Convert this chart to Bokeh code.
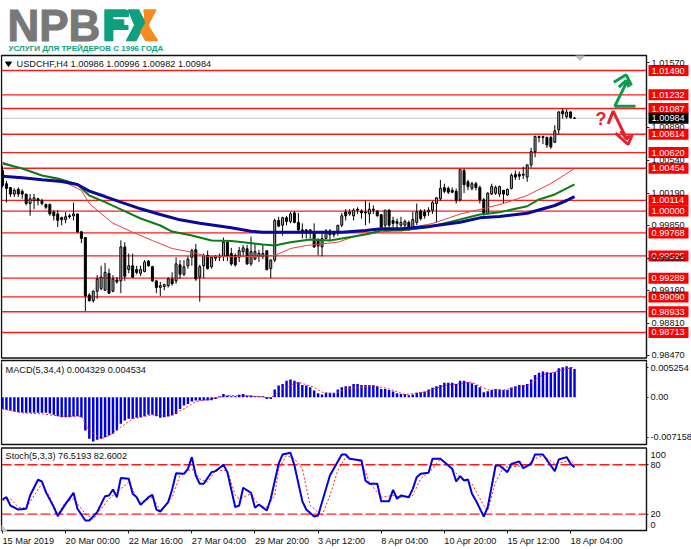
from bokeh.plotting import figure
from bokeh.layouts import column
from bokeh.models import Range1d, LinearAxis, FixedTicker, ColumnDataSource
from bokeh.core.properties import value
from bokeh.embed import file_html
from bokeh.resources import INLINE

# ---------- data ----------
highs = [1.0048,1.0032,1.0025,1.0024,1.0025,1.0023,1.0018,1.0018,1.0018,1.0014,
1.0013,1.0008,1.0008,1.0001,1.0001,.9994,.9999,.9997,1.0009,.9997,
.9979,.9972,.9913,.9916,.9932,.9942,.9945,.9939,.9932,.9930,
.9969,.9967,.9955,.9955,.9942,.9942,.9948,.9948,.9942,.9927,
.9925,.9923,.9930,.9935,.9951,.9948,.9948,.9952,.9960,.9965,
.9943,.9955,.9958,.9952,.9953,.9955,.9972,.9967,.9961,.9955,
.9962,.9964,.9964,.9973,.9965,.9959,.9964,.9958,.9949,.9992,
.9994,.9994,.9995,.9999,1.0000,.9998,.9987,.9981,.9981,.9987,
.9971,.9979,.9981,.9981,.9979,.9985,.9998,1.0002,1.0002,1.0003,
1.0004,1.0002,1.0011,1.0009,1.0006,1.0001,.9997,1.0001,1.0002,.9994,
.9992,.9994,.9991,.9990,.9999,1.0008,1.0002,1.0002,1.0004,1.0011,
1.0015,1.0033,1.0029,1.0026,1.0025,1.0024,1.0044,1.0045,1.0033,1.0031,
1.0031,1.0027,1.0014,1.0020,1.0029,1.0027,1.0027,1.0022,1.0024,1.0040,
1.0043,1.0042,1.0047,1.0049,1.0067,1.0080,1.0080,1.0080,1.0079,1.0080,
1.0091,1.0106,1.0109,1.0108,1.0106,1.00996]
opens = [1.0043,1.0029,1.0025,1.0018,1.0023,1.0021,1.0018,1.0008,1.0011,1.0013,
1.0011,1.0007,1.0007,.9999,.9997,.9993,.9991,.9995,.9995,.9997,
.9978,.9972,.9911,.9905,.9915,.9918,.9916,.9934,.9915,.9927,
.9926,.9962,.9938,.9942,.9938,.9934,.9936,.9947,.9941,.9926,
.9919,.9920,.9921,.9928,.9926,.9943,.9933,.9942,.9951,.9959,
.9930,.9942,.9953,.9941,.9952,.9951,.9952,.9967,.9955,.9953,
.9951,.9957,.9960,.9944,.9949,.9952,.9952,.9958,.9939,.9948,
.9990,.9985,.9993,.9989,.9998,.9988,.9980,.9980,.9979,.9976,
.9970,.9962,.9971,.9979,.9976,.9978,.9985,.9999,.9997,.9995,
1.0002,1.0000,.9999,.9997,1.0002,1.0000,.9996,.9985,1.0001,.9990,
.9989,.9985,.9985,.9988,.9983,.9988,1.0000,.9999,.9999,1.0001,
1.0008,1.0013,1.0025,1.0024,1.0022,1.0021,1.0012,1.0043,1.0031,1.0024,
1.0029,1.0025,1.0012,.9997,1.0018,1.0019,1.0018,1.0022,1.0017,1.0024,
1.0039,1.0039,1.0038,1.0036,1.0049,1.0063,1.0079,1.0079,1.0078,1.0078,
1.0073,1.0086,1.0106,1.0100,1.0105,1.00986]
closes = [1.0027,1.0024,1.0018,1.0022,1.0018,1.0018,1.0008,1.0013,1.0014,1.0011,
1.0008,1.0004,.9997,.9995,.9990,.9991,.9994,.9994,.9997,.9978,
.9971,.9910,.9905,.9915,.9928,.9930,.9935,.9913,.9928,.9925,
.9962,.9931,.9942,.9930,.9935,.9938,.9946,.9942,.9926,.9919,
.9921,.9922,.9928,.9923,.9944,.9933,.9941,.9949,.9958,.9928,
.9941,.9953,.9939,.9951,.9950,.9952,.9967,.9952,.9944,.9943,
.9958,.9961,.9944,.9957,.9957,.9955,.9955,.9938,.9948,.9990,
.9984,.9993,.9989,.9997,.9988,.9980,.9979,.9979,.9980,.9962,
.9963,.9971,.9979,.9975,.9975,.9985,.9995,.9995,.9999,1.0001,
1.0001,.9998,.9998,1.0002,1.0001,.9995,.9983,1.0001,.9985,.9987,
.9987,.9988,.9989,.9983,.9991,.9999,.9992,.9995,1.0001,1.0009,
1.0014,1.0024,1.0021,1.0020,1.0020,1.0011,1.0044,1.0028,1.0026,1.0029,
1.0025,1.0012,.9997,1.0019,1.0026,1.0025,1.0026,1.0018,1.0023,1.0038,
1.0036,1.0037,1.0039,1.0049,1.0063,1.0079,1.0078,1.0078,1.0070,1.0068,
1.0085,1.0105,1.0103,1.0105,1.0099,1.00984]
lows = [1.0025,1.0009,1.0015,1.0015,1.0015,1.0013,1.0006,.9995,1.0002,1.0006,
1.0006,1.0002,.9995,.9990,.9983,.9985,.9987,.9992,.9990,.9977,
.9966,.9894,.9904,.9903,.9907,.9916,.9916,.9912,.9914,.9923,
.9913,.9926,.9934,.9929,.9933,.9931,.9935,.9941,.9925,.9913,
.9910,.9916,.9919,.9921,.9923,.9928,.9931,.9939,.9942,.9926,
.9904,.9929,.9938,.9939,.9947,.9947,.9947,.9947,.9942,.9941,
.9946,.9953,.9943,.9942,.9948,.9946,.9949,.9937,.9929,.9946,
.9983,.9974,.9985,.9987,.9987,.9979,.9971,.9971,.9971,.9961,
.9953,.9952,.9971,.9968,.9972,.9974,.9983,.9990,.9995,.9990,
.9997,.9992,.9985,.9987,.9997,.9994,.9979,.9981,.9981,.9983,
.9981,.9983,.9981,.9979,.9983,.9985,.9990,.9992,.9995,.9997,
.9988,1.0011,1.0019,1.0018,1.0019,1.0008,1.0010,1.0019,1.0022,1.0022,
1.0022,1.0008,.9995,.9997,1.0017,1.0017,1.0015,1.0008,1.0016,1.0023,
1.0033,1.0033,1.0034,1.0031,1.0046,1.0057,1.0073,1.0071,1.0067,1.0066,
1.0072,1.0081,1.0098,1.0098,1.0098,1.00982]

ma_red_bars = [0,10,15,20,22,25,28,33,38,43,48,52,58,63,69,73,77,85,90,96,101,109,116,121,127,133,139,145]
ma_red = [1.00518,1.00377,1.00324,1.00218,1.00080,.99974,.99871,.99776,.99688,.99603,.99564,.99518,.99518,.99518,
          .99529,.99603,.99635,.99670,.99741,.99776,.99805,.99868,.99968,1.00017,1.00080,1.00165,1.00292,1.00451]
ma_green_bars = [0,5,10,14,19,22,26,30,35,40,43,48,53,58,61,66,69,73,78,83,86,92,96,101,108,116,121,126,133,136,140,145]
ma_green = [1.00504,1.00451,1.00377,1.00345,1.00282,1.00165,1.00094,1.00017,.99921,.99847,.99783,.99741,.99688,.99683,
            .99670,.99646,.99635,.99670,.99699,.99688,.99709,.99752,.99794,.99794,.99829,.99911,.99963,.99988,1.00051,1.00123,1.00176,1.00282]
ma_blue_bars = [0,5,10,15,19,22,26,30,35,40,45,50,58,63,66,73,79,86,92,96,101,108,116,121,126,133,140,143,145]
ma_blue = [1.00370,1.00353,1.00331,1.00313,1.00282,1.00211,1.00154,1.00094,1.00024,.99964,.99907,.99871,.99823,.99787,
           .99776,.99776,.99776,.99776,.99794,.99812,.99812,.99836,.99882,.99928,.99942,.99977,1.00059,1.00112,1.00154]

levels = [1.01490,1.01232,1.01087,1.00814,1.00620,1.00454,1.00114,1.00000,.99768,.99525,.99289,.99090,.98933,.98713]
last_price = 1.00984
price_ticks = [1.01570,1.00890,1.00540,1.00190,.99850,.99500,.99160,.98810,.98470]

macd_hist = [-.00208,-.00225,-.00237,-.00255,-.00267,-.00273,-.00279,-.00279,-.00279,-.00279,
-.00279,-.00279,-.00291,-.00314,-.00338,-.00356,-.00356,-.00356,-.00344,-.00338,
-.00356,-.00593,-.00741,-.00789,-.00759,-.00741,-.00712,-.00682,-.00652,-.00593,
-.00474,-.00415,-.00385,-.00385,-.00368,-.00356,-.00338,-.00314,-.00314,-.00338,
-.00368,-.00356,-.00344,-.00326,-.00297,-.00208,-.00148,-.00119,-.00077,-.00059,
-.00059,-.00059,-.00059,-.00053,-.00030,.00018,.00059,.00030,.00018,.00018,
.00042,.00059,.00030,.00030,.00018,.00018,.00018,-.00030,-.00030,.00136,
.00208,.00237,.00291,.00314,.00291,.00267,.00219,.00208,.00178,.00119,
.00071,.00047,.00077,.00077,.00077,.00136,.00178,.00196,.00196,.00237,
.00237,.00219,.00219,.00219,.00219,.00196,.00148,.00148,.00130,.00101,
.00071,.00059,.00059,.00036,.00047,.00077,.00089,.00101,.00136,.00166,
.00196,.00219,.00255,.00255,.00255,.00237,.00291,.00291,.00267,.00249,
.00219,.00178,.00089,.00107,.00130,.00148,.00136,.00130,.00130,.00172,
.00196,.00219,.00219,.00237,.00314,.00397,.00433,.00457,.00445,.00433,
.00445,.00516,.00534,.00551,.00534,.00504]
macd_sig_bars = [0,5,10,15,20,22,25,27,30,33,38,42,46,49,54,57,64,68,71,75,79,81,84,87,94,98,102,107,112,119,123,127,133,137,141,145]
macd_sig = [-.00208,-.00279,-.00297,-.00338,-.00338,-.00593,-.00741,-.00682,-.00534,-.00385,-.00314,-.00338,-.00208,-.00077,
            -.00018,.00030,.00018,-.00012,.00148,.00267,.00178,.00089,.00059,.00148,.00208,.00148,.00047,.00089,.00208,.00267,
            .00130,.00130,.00208,.00397,.00474,.00534]
macd_ticks = [.005254,0.0,-.007158]

stoch_k_bars = [0,1,2,4,6,7,9,10,11,13,14,16,18,19,21,22,24,26,27,28,29,30,32,33,34,35,37,38,39,40,42,43,44,46,47,48,49,50,51,53,54,56,57,59,60,61,63,64,65,67,68,70,71,73,74,76,77,79,80,82,83,86,87,
                88,91,92,93,95,96,98,99,100,101,103,104,105,106,108,109,111,114,115,116,117,118,119,120,122,123,125,126,128,129,131,132,134,135,137,140,141,143,144,145]
stoch_k = [37.7,40.5,30.4,25.5,26.4,42.6,61.7,59.6,46.7,28.4,17.4,32.4,45.8,26.4,12.2,12.2,22.3,41.8,42.6,49.9,40.5,64.0,62.9,44.6,40.5,31.2,40.5,43.4,25.5,23.1,34.5,49.9,69.7,69.0,75.0,89.3,66.9,56.8,56.8,71.0,72.2,79.9,71.0,28.4,30.4,52.0,45.8,27.6,31.7,24.3,38.6,81.1,92.5,94.5,79.1,35.7,25.5,17.0,18.3,50.7,66.9,92.5,92.5,
           87.2,85.2,60.8,56.8,56.8,35.7,35.7,49.5,38.6,42.6,40.5,50.7,64.9,69.0,70.2,87.2,87.2,75.0,59.6,66.1,60.8,62.1,44.6,36.5,17.0,28.4,79.1,79.1,71.0,81.1,84.0,75.8,81.1,92.5,92.5,72.2,86.4,89.3,81.1,77.1]
stoch_d_bars = [0,2,4,6,8,10,12,14,16,18,21,23,25,27,29,32,34,35,38,40,43,45,48,50,52,54,57,59,60,63,65,67,69,70,72,74,76,78,81,83,85,87,
                89,91,93,96,99,101,104,106,109,111,114,116,119,122,123,125,127,129,133,135,137,140,144,145]
stoch_d = [36.5,38.6,28.4,27.2,42.6,56.8,40.5,20.3,34.5,38.6,20.3,13.4,26.4,38.6,46.7,58.8,40.5,34.5,40.5,24.3,40.5,66.9,75.0,62.9,58.8,73.0,73.0,42.6,38.6,44.6,30.4,28.4,42.6,75.0,91.2,87.2,75.0,30.4,18.3,42.6,73.0,89.3,
           87.2,83.1,58.8,40.5,42.6,40.5,42.6,62.9,75.0,87.2,75.0,64.9,56.8,30.4,24.3,58.8,77.1,77.1,79.9,87.2,91.2,81.1,85.2,81.1]
stoch_levels = [80,20]

date_bars = [0,16,32,48,64,80,96,112,128,144]
date_labels = ["15 Mar 2019","20 Mar 00:00","22 Mar 16:00","27 Mar 04:00","29 Mar 20:00",
               "3 Apr 12:00","8 Apr 04:00","10 Apr 20:00","15 Apr 12:00","18 Apr 04:00"]

header_main = "USDCHF,H4  1.00986 1.00996 1.00982 1.00984"
header_macd = "MACD(5,34,4) 0.004329 0.004534"
header_stoch = "Stoch(5,3,3) 76.5193 82.6002"
logo_sub = "УСЛУГИ ДЛЯ ТРЕЙДЕРОВ С 1996 ГОДА"

# ---------- page geometry (picture pixels) ----------
FONT = "Liberation Sans"
FS = "9.2px"
bx = lambda px: (px - 2) / 3.945          # picture x -> bar number
LEFT, RIGHT = bx(1), bx(646)

def panel(h, ybottom, ytop):
    f = figure(width=691, height=h, output_backend="svg", toolbar_location=None,
               x_range=Range1d(bx(0), bx(691)), y_range=Range1d(ybottom, ytop),
               x_axis_location=None, y_axis_location=None,
               min_border_left=0, min_border_right=0, min_border_top=0, min_border_bottom=0,
               outline_line_color=None, background_fill_color="white")
    f.grid.visible = False
    return f

def frame(f, top, bottom):
    f.quad(left=LEFT, right=RIGHT, top=top, bottom=bottom, fill_color=None,
           line_color="#111111", line_width=1.4)

def right_axis(f, ticks, overrides=None, tick_out=3):
    ax = LinearAxis(ticker=FixedTicker(ticks=ticks), fixed_location=RIGHT, axis_line_color=None,
                    major_tick_line_color="#222222", major_tick_out=tick_out, major_tick_in=0,
                    minor_tick_line_color=None, major_label_standoff=2,
                    major_label_text_font=FONT, major_label_text_font_size=FS,
                    major_label_text_color="#111111")
    if overrides:
        ax.major_label_overrides = overrides
    f.add_layout(ax, "right")

def text(f, x, y, s, color="#111111", size=FS, style="normal", font=FONT, align="left", baseline="middle", **kw):
    f.text([x], [y], text=[s], text_color=color, text_font_size=size, text_font_style=style,
           text_font=value(font), text_align=align, text_baseline=baseline, **kw)

# ---------- main panel (picture y 0..362, holds the top edge of the MACD frame too) ----------
py = lambda y: 1.02232 - 0.000106 * y     # picture y -> price
p = panel(362, py(362), py(0))
bars = list(range(len(opens)))
p.segment(LEFT, levels, RIGHT, levels, line_color="#ff1a1a", line_width=1.3)
p.segment(LEFT, [last_price], RIGHT, [last_price], line_color="#c8c8c8", line_width=1)

up = [c >= o for o, c in zip(opens, closes)]
src = ColumnDataSource(dict(x=bars, o=opens, h=highs, l=lows, c=closes,
                            fill=["#a8a8a8" if u else "black" for u in up]))
p.segment("x", "h", "x", "l", source=src, line_color="black", line_width=1)
p.vbar("x", 0.5, "o", "c", source=src, fill_color="fill", line_color="black", line_width=1)

p.line(ma_red_bars, ma_red, line_color="#e8403c", line_width=1)
p.line(ma_green_bars, ma_green, line_color="#0a7d14", line_width=2)
p.line(ma_blue_bars, ma_blue, line_color="#0a0a96", line_width=3)
frame(p, py(55), py(357.5))
frame(p, py(360), py(366))
right_axis(p, price_ticks, {v: f"{v:.5f}" for v in price_ticks})

boxes_x = bx(668)
p.rect([boxes_x] * len(levels), levels, width=40, height=11, width_units="screen", height_units="screen",
       fill_color="#ff0000", line_color=None)
p.text([bx(651)] * len(levels), levels, text=[f"{v:.5f}" for v in levels], text_color="white",
       text_font_size=FS, text_font=value(FONT), text_baseline="middle")
p.rect([boxes_x], [last_price], width=40, height=11, width_units="screen", height_units="screen",
       fill_color="#000000", line_color=None)
text(p, bx(651), last_price, f"{last_price:.5f}", color="white")

text(p, bx(16), py(63), header_main)
p.patch([bx(5), bx(11), bx(8)], [py(61.5), py(61.5), py(66)], color="black")
p.patch([bx(575), bx(584), bx(579.5)], [py(55.5), py(55.5), py(60)], color="#bdbdbd")

# logo
LG, LO, LN = "#0e9f7e", "#f68b1f", "#787878"
lx = lambda z: bx(95 + z / 3)
ly = lambda z: py(2 + z / 3)
LOGO_Y = 25
text(p, bx(7), py(LOGO_Y), "NPB", color=LN, size="44px", style="bold", text_outline_color=LN)
text(p, bx(103), py(LOGO_Y), "F", color=LG, size="44px", style="bold")
text(p, bx(127), py(LOGO_Y), "X", color=LO, size="44px", style="bold")
for xs, ys, col in [
    ([28, 92, 100, 52, 52, 85, 85, 52, 52, 28], [22, 22, 42, 42, 52, 52, 68, 68, 115, 115], LG),
    ([98, 130, 150, 135, 122, 92, 117], [22, 22, 62, 90, 115, 115, 68], LG),
    ([145, 182, 158, 187, 150, 135, 150], [22, 22, 68, 115, 115, 88, 62], LO),
]:
    p.patch([lx(v) for v in xs], [ly(v) for v in ys], color=col)
text(p, bx(8), py(47.5), logo_sub, color=LG, size="8px", style="bold")

# outlook arrows
GREEN, RED = "#0a9a50", "#e8202e"
zx = lambda z: bx(460 + z / 3)
zy = lambda z: py(40 + z / 3)
for xs, ys, col in [
    ([525, 463, 497], [197, 197, 128], GREEN),
    ([460, 497, 513], [125, 103, 135], GREEN),
    ([475, 497, 505], [140, 120, 140], GREEN),
    ([443, 458, 498], [250, 212, 295], RED),
    ([465, 503, 515], [278, 312, 283], RED),
    ([480, 498, 508], [272, 295, 285], RED),
]:
    p.line([zx(v) for v in xs], [zy(v) for v in ys], line_color=col, line_width=3)
text(p, zx(405), zy(235), "?", color=RED, size="18px", style="bold")

# ---------- MACD (picture y 362..446) ----------
k = 0.000178
my = lambda y: (396.7 - y) * k
m = panel(84, my(446), my(362))
m.vbar(bars, 0.62, 0, macd_hist, fill_color="#0000e6", line_color=None)
m.line(macd_sig_bars, macd_sig, line_color="#ff2020", line_width=1, line_dash="2 2")
frame(m, my(352), my(444))
right_axis(m, macd_ticks, {.005254: "0.005254", 0.0: "0.00", -.007158: "-0.007158"}, 2)
text(m, bx(5), my(369), header_macd)

# ---------- Stochastic (picture y 446..549) ----------
sy = lambda y: (530 - y) / 0.822
s = panel(103, sy(549), sy(446))
s.segment(LEFT, stoch_levels, RIGHT, stoch_levels, line_color="#ff1a1a", line_width=1.3, line_dash="10 3")
s.line(stoch_d_bars, stoch_d, line_color="#ff2020", line_width=1, line_dash="2 2")
s.line(stoch_k_bars, stoch_k, line_color="#0000e0", line_width=2)
frame(s, sy(447.5), sy(530))
right_axis(s, stoch_levels, None, 2)
text(s, bx(650), sy(454), "100")
text(s, bx(650), sy(524), "0")
text(s, bx(5), sy(455.7), header_stoch)
s.patch([bx(1.5), bx(1.5), bx(6)], [sy(525), sy(530), sy(530)], color="#c8c8c8")

xa = LinearAxis(ticker=FixedTicker(ticks=date_bars), fixed_location=sy(530), axis_line_color=None,
                major_tick_line_color="#222222", major_tick_out=3, major_tick_in=0,
                minor_tick_line_color=None, major_label_text_color=None,
                major_label_text_font_size="1px")
s.add_layout(xa, "below")
s.text(date_bars, [sy(540)] * len(date_bars), text=date_labels, text_color="#111111", text_font_size=FS,
       text_font=value(FONT), text_baseline="middle")

page = column(p, m, s, spacing=0)
html = file_html(page, INLINE)
open("out.html", "w").write(html)
